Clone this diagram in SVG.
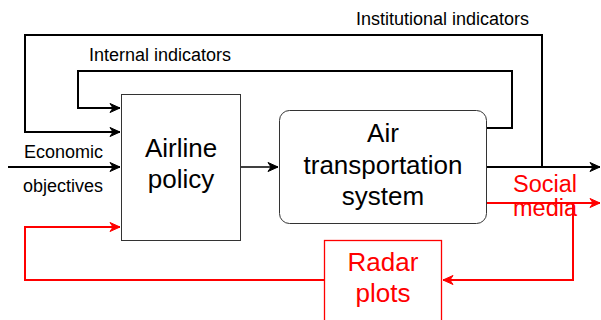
<svg xmlns="http://www.w3.org/2000/svg" width="601" height="320" viewBox="0 0 601 320">
<style>
text{font-family:"Liberation Sans",Arial,Helvetica,sans-serif}
.box{fill:#fff;stroke:#333;stroke-width:1}
.big{font-size:26px;text-anchor:middle;fill:#000}
.lbl{font-size:18px;fill:#000}
.red{fill:#f00}
.c{fill:none;stroke:#000;stroke-width:2}
.c1{fill:none;stroke:#000;stroke-width:1.5}
.r{fill:none;stroke:#f00;stroke-width:2}
</style>
<defs>
<marker id="ab" markerUnits="userSpaceOnUse" markerWidth="14" markerHeight="12" refX="12" refY="6" orient="auto" viewBox="0 0 14 12">
<path d="M12,6 L2,1.5 L5,6 L2,10.5 Z" fill="#000" stroke="#000" stroke-width="1"/>
</marker>
<marker id="ar" markerUnits="userSpaceOnUse" markerWidth="14" markerHeight="12" refX="12" refY="6" orient="auto" viewBox="0 0 14 12">
<path d="M12,6 L2,1.5 L5,6 L2,10.5 Z" fill="#f00" stroke="#f00" stroke-width="1"/>
</marker>
</defs>
<g id="connectors">
<path class="c" d="M542,167 V35 H25 V132 H120" marker-end="url(#ab)"/>
<path class="c" d="M486,128 H512 V71 H78 V108 H120" marker-end="url(#ab)"/>
<path class="c" d="M8,167 H120" marker-end="url(#ab)"/>
<path class="c1" d="M240,167 H278" marker-end="url(#ab)"/>
<path class="c" d="M486,167 H600" marker-end="url(#ab)"/>
<path class="r" d="M486,203 H600" marker-end="url(#ar)"/>
<path class="r" d="M573,203 V280 H443" marker-end="url(#ar)"/>
<path class="r" d="M324,280 H25 V227 H120" marker-end="url(#ar)"/>
</g>
<g id="airline-policy">
<rect class="box" x="121.5" y="94.5" width="119" height="146"/>
<text class="big" x="181" y="157">Airline</text>
<text class="big" x="181" y="188">policy</text>
</g>
<g id="air-transportation-system">
<rect class="box" x="279.5" y="110.5" width="207" height="113" rx="10"/>
<text class="big" x="383" y="142">Air</text>
<text class="big" x="383" y="174">transportation</text>
<text class="big" x="383" y="205">system</text>
</g>
<g id="radar-plots">
<rect x="324.5" y="240.5" width="117" height="90" fill="#fff" stroke="#f00" stroke-width="1.3"/>
<text class="big red" x="383" y="271">Radar</text>
<text class="big red" x="383" y="302">plots</text>
</g>
<g id="labels">
<text class="lbl" x="356" y="25">Institutional indicators</text>
<text class="lbl" x="89" y="61">Internal indicators</text>
<text class="lbl" x="24" y="158">Economic</text>
<text class="lbl" x="23" y="192">objectives</text>
<text class="red" x="545" y="192" font-size="23.5" text-anchor="middle">Social</text>
<text class="red" x="545" y="216" font-size="23.5" text-anchor="middle">media</text>
</g>
</svg>
